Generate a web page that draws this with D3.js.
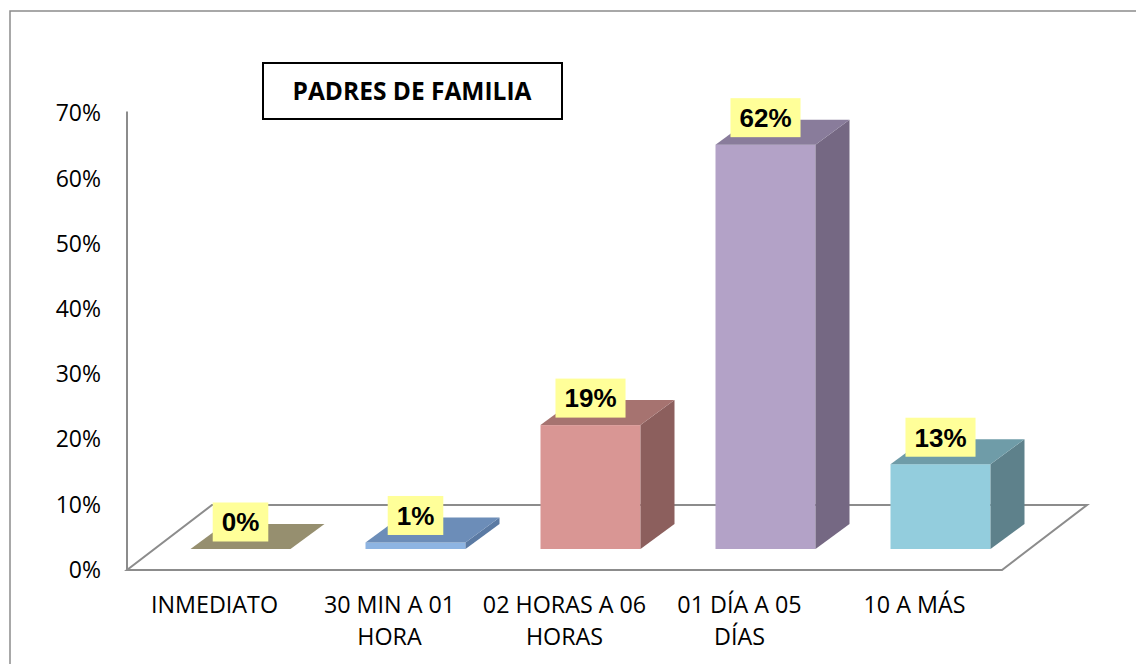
<!DOCTYPE html>
<html><head><meta charset="utf-8">
<script src="https://cdn.jsdelivr.net/npm/d3@7"></script>
<style>body{margin:0;background:#fff}svg{display:block}</style>
</head><body>
<svg id="c" width="1136" height="664"></svg>
<script>
const categories = ["INMEDIATO", "30 MIN A 01 HORA", "02 HORAS A 06 HORAS", "01 DÍA A 05 DÍAS", "10 A MÁS"];
const categoryLines = [["INMEDIATO"], ["30 MIN A 01", "HORA"], ["02 HORAS A 06", "HORAS"], ["01 DÍA A 05", "DÍAS"], ["10 A MÁS"]];
const values = [0.00, 0.01, 0.19, 0.62, 0.13];
const valueLabels = ["0%", "1%", "19%", "62%", "13%"];
const yTicks = [0, 0.1, 0.2, 0.3, 0.4, 0.5, 0.6, 0.7];
const title = "PADRES DE FAMILIA";
const frontColors = ["#C4BD97", "#8DB4E2", "#D99694", "#B3A2C7", "#93CDDD"];
const topColors = ["#968F6F", "#6C8DB8", "#A67370", "#897C9B", "#6F9CA8"];
const sideColors = ["#7E785D", "#5B7AA3", "#8C5F5D", "#756883", "#5E818B"];

const svg = d3.select("#c");
const grey = "#8c8c8c";

// outer border
svg.append("path").attr("d", "M10,700 L10,11 L1140,11").attr("fill", "none").attr("stroke", grey).attr("stroke-width", 1.5);

const x0 = 127, x1 = 1002;
const x = d3.scaleBand().domain(categories).range([x0, x1]);
const y = d3.scaleLinear().domain([0, 0.7]).range([570, 113.5]);

// depth geometry
const DX = 85, DY = -65;           // floor depth
const bfx = 26, bfy = -21;         // bar front offset
const bdx = 34, bdy = -25;         // bar depth
const barW = 100;

// floor
const base = y(0);
svg.append("path")
  .attr("d", `M${x0},${base} L${x1},${base} L${x1+DX},${base+DY} L${x0+DX},${base+DY} Z`)
  .attr("fill", "none").attr("stroke", grey).attr("stroke-width", 2);

// y axis
const yAxis = d3.axisLeft(y).tickValues(yTicks).tickFormat(d3.format(".0%")).tickSize(0).tickPadding(26);
const ga = svg.append("g").attr("transform", `translate(${x0},0)`).call(yAxis);
ga.select(".domain").remove();
ga.selectAll("text").attr("font-family", "Open Sans").attr("font-size", 23).attr("fill", "#000");
svg.append("line").attr("x1", x0).attr("x2", x0).attr("y1", y(0.7) - 2).attr("y2", base)
  .attr("stroke", grey).attr("stroke-width", 2);

// bars
categories.forEach((c, i) => {
  const cx = x(c) + x.bandwidth() / 2 + bfx;
  const l = cx - barW / 2, r = cx + barW / 2;
  const b = base + bfy;
  const t = y(values[i]) + bfy;
  const g = svg.append("g");
  if (b - t > 0.5) {
    g.append("rect").attr("x", l).attr("y", t).attr("width", barW).attr("height", b - t).attr("fill", frontColors[i]);
    g.append("path").attr("d", `M${r},${t} L${r+bdx},${t+bdy} L${r+bdx},${b+bdy} L${r},${b} Z`).attr("fill", sideColors[i]);
  }
  g.append("path").attr("d", `M${l},${t} L${r},${t} L${r+bdx},${t+bdy} L${l+bdx},${t+bdy} Z`).attr("fill", topColors[i]);

  // data label
  const lab = g.append("g");
  const txt = lab.append("text").attr("x", cx).attr("y", t - 27).attr("dy", "0.36em")
    .attr("text-anchor", "middle").attr("font-family", "Liberation Sans, Arial").attr("font-weight", "bold")
    .attr("font-size", 26).text(valueLabels[i]);
  const w = txt.node().getComputedTextLength() + 18;
  lab.insert("rect", "text").attr("x", cx - w / 2).attr("y", t - 27 - 19.5).attr("width", w).attr("height", 39).attr("fill", "#FFFF99");
});

// category labels
categories.forEach((c, i) => {
  const cx = x(c) + x.bandwidth() / 2;
  const t = svg.append("text").attr("text-anchor", "middle").attr("font-family", "Open Sans").attr("font-size", 23.3).attr("fill", "#000");
  categoryLines[i].forEach((ln, j) => {
    t.append("tspan").attr("x", cx).attr("y", 613 + j * 32).text(ln);
  });
});

// title box
svg.append("rect").attr("x", 263).attr("y", 63).attr("width", 299).attr("height", 56)
  .attr("fill", "#fff").attr("stroke", "#000").attr("stroke-width", 2);
svg.append("text").attr("x", 412).attr("y", 100).attr("text-anchor", "middle")
  .attr("font-family", "Open Sans").attr("font-weight", "bold").attr("font-size", 24.5).text(title);
</script>
</body></html>
